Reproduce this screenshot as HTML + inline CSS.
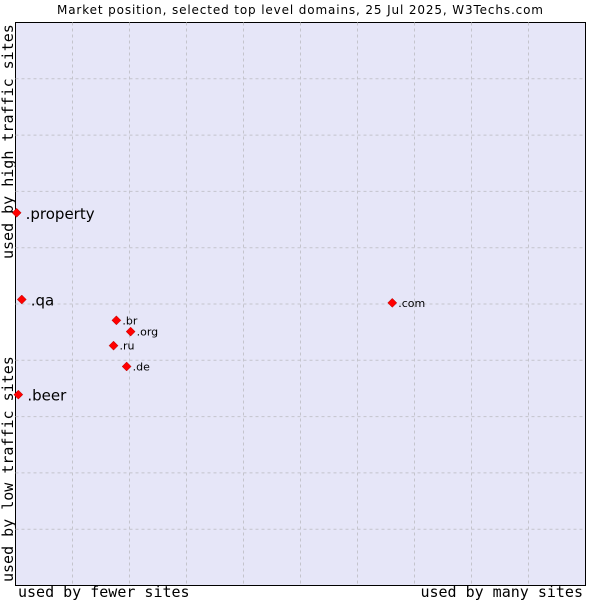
<!DOCTYPE html>
<html><head><meta charset="utf-8"><style>
body{margin:0;background:#fff;}
svg{display:block;font-family:"DejaVu Sans","Liberation Sans",sans-serif;}
</style></head><body>
<svg id="c" width="600" height="600">
<text x="300" y="14" text-anchor="middle" font-size="12" textLength="486" lengthAdjust="spacing">Market position, selected top level domains, 25 Jul 2025, W3Techs.com</text>
<rect x="15.5" y="22.5" width="570" height="563" fill="#e6e6f8" stroke="#000"/>
<g id="grid"></g>
<g id="pts"></g>
<text x="18" y="597" font-family="DejaVu Sans Mono, Liberation Mono, monospace" font-size="15">used by fewer sites</text>
<text x="583" y="597" text-anchor="end" font-family="DejaVu Sans Mono, Liberation Mono, monospace" font-size="15">used by many sites</text>
<text transform="translate(13,582) rotate(-90)" font-family="DejaVu Sans Mono, Liberation Mono, monospace" font-size="15">used by low traffic sites</text>
<text transform="translate(13,259) rotate(-90)" font-family="DejaVu Sans Mono, Liberation Mono, monospace" font-size="15">used by high traffic sites</text>
</svg>
<script>
const domains=[".property",".qa",".beer",".com",".br",".org",".ru",".de"];
const xVals=[0.2,1.1,0.5,66.1,17.7,20.2,17.2,19.5];
const yVals=[66.2,50.8,33.9,50.2,47.1,45.1,42.6,38.9];
const fontSizes=[15,15,15,11,11,11,11,11];
const L=15.5,T=22.5,W=570,H=563;
const sx=v=>L+v/100*W, sy=v=>T+H-v/100*H;
const ns="http://www.w3.org/2000/svg";
const g=document.getElementById('grid');
for(let i=1;i<10;i++){
 const a=document.createElementNS(ns,'line');
 
 
 a.setAttribute('x1',sx(i*10));a.setAttribute('x2',sx(i*10));a.setAttribute('y1',T);a.setAttribute('y2',T+H);
 a.setAttribute('stroke','#c4c4cc');a.setAttribute('stroke-dasharray','3,3');g.appendChild(a);
 const b=document.createElementNS(ns,'line');
 
 
 b.setAttribute('y1',sy(i*10));b.setAttribute('y2',sy(i*10));b.setAttribute('x1',L);b.setAttribute('x2',L+W);
 b.setAttribute('stroke','#c4c4cc');b.setAttribute('stroke-dasharray','3,3');g.appendChild(b);
}
const p=document.getElementById('pts');
domains.forEach((d,i)=>{
 const x=sx(xVals[i]),y=sy(yVals[i]);
 const m=document.createElementNS(ns,'path');
 
 
 m.setAttribute('d',`M${x} ${y-4.5}L${x+4.5} ${y}L${x} ${y+4.5}L${x-4.5} ${y}Z`);
 m.setAttribute('fill','#f00');m.setAttribute('stroke','#a00');m.setAttribute('stroke-width','0.5');p.appendChild(m);
 const t=document.createElementNS(ns,'text');
 
 
 const big=fontSizes[i]>12;
 t.setAttribute('x',x+(big?9:6));t.setAttribute('y',y+(big?6:4));
 t.setAttribute('font-size',fontSizes[i]);t.textContent=d;p.appendChild(t);
});
</script>
</body></html>
